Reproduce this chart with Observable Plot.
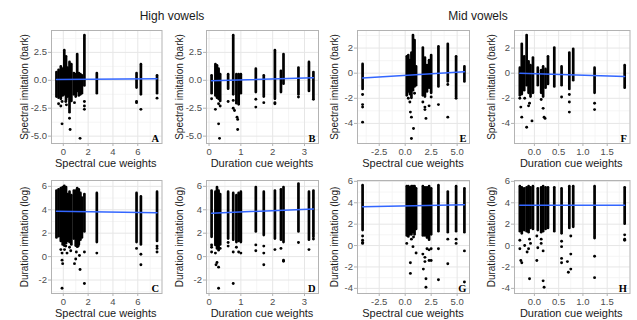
<!DOCTYPE html>
<html><head><meta charset="utf-8">
<script src="https://cdn.jsdelivr.net/npm/d3@7"></script>
<script src="https://cdn.jsdelivr.net/npm/@observablehq/plot@0.6"></script>
<style>
body{margin:0;background:#fff;font-family:"Liberation Sans",Arial,sans-serif;}
#root{position:relative;width:637px;height:320px;overflow:hidden;background:#fff;}
.lab{position:absolute;white-space:nowrap;color:#1a1a1a;transform:translate(-50%,-50%);line-height:1;}
.ylab{transform:translate(-50%,-50%) rotate(-90deg);}
</style></head><body><div id="root"></div><script>
// ---------------- DATA ----------------
const groupTitles = ["High vowels", "Mid vowels"];
const xTitles = ["Spectral cue weights", "Duration cue weights", "Spectral cue weights", "Duration cue weights"];
const yTitles = ["Spectral imitation (bark)", "Duration imitation (log)"];
const panelLetters = ["A", "B", "E", "F", "C", "D", "G", "H"];

// x positions of the point columns (cue weights)
const highSpecX = [-0.55,-0.38,-0.2,-0.05,0.08,0.22,0.35,0.5,0.65,0.85,1.0,1.12,1.25,1.38,1.5,1.7,2.7,5.9,6.25,7.55];
const highDurX  = [0.08,0.2,0.25,0.3,0.35,0.6,0.76,0.86,0.93,1.0,1.47,1.72,2.07,2.26,2.34,2.81,3.14,3.28];
const midSpecX  = [-4.1,0.15,0.3,0.45,0.6,0.75,0.9,1.05,1.7,1.9,2.1,2.3,2.5,3.2,4.1,4.9,5.7];
const midDurX   = [-0.3,-0.26,-0.21,-0.16,-0.12,-0.08,-0.03,0.07,0.14,0.18,0.23,0.28,0.41,0.56,0.72,0.8,1.24,1.86];

// dense column extents (top / bottom) per panel
const aHi = [0.7,0.9,1.2,1.0,2.65,2.1,1.1,1.6,1.4,0.6,0.5,2.3,0.6,0.5,0.4,4.0,0.6,0.6,1.4,0.4];
const aLo = [-1.5,-1.6,-1.7,-1.4,-1.3,-1.8,-1.5,-2.9,-1.9,-1.3,-1.5,-1.0,-1.4,-1.3,-1.2,-0.5,-1.2,-0.7,-1.3,-1.2];
const cHi = [5.6,5.7,5.8,5.9,6.0,5.9,5.3,5.5,5.2,5.6,5.6,5.8,5.7,5.4,5.0,5.3,5.4,5.4,5.1,5.5];
const cLo = [1.6,1.7,1.3,1.0,0.9,1.1,1.3,1.2,1.0,1.5,0.9,0.8,1.0,1.4,1.6,2.1,1.2,1.2,1.0,1.3];
const bHi = [0.4,1.4,1.3,1.0,0.5,0.5,4.0,0.5,0.5,0.5,1.0,0.4,2.65,0.8,2.3,1.1,1.6,0.7];
const bLo = [-1.2,-1.4,-1.6,-1.7,-1.9,-0.8,-1.3,-2.1,-2.2,-1.2,-1.1,-1.5,-1.7,-1.1,-0.35,-1.3,-1.0,-1.6];
const dHi = [5.6,5.5,5.9,5.6,5.3,5.5,5.4,5.2,5.4,5.5,5.9,5.5,5.6,5.7,5.9,6.2,5.5,5.6];
const dLo = [1.65,0.95,0.65,0.5,1.0,1.5,1.4,1.2,1.3,1.2,2.1,1.8,1.5,1.4,1.2,2.1,1.4,1.65];
const eHi = [0.7,1.3,1.4,1.0,1.6,3.0,2.6,0.5,2.0,1.2,0.6,1.0,1.4,2.1,2.3,1.3,0.5];
const eLo = [-1.3,-1.8,-1.5,-1.7,-2.0,-1.4,-1.1,-1.0,-1.8,-1.9,-1.5,-1.2,-1.6,-1.1,-0.7,-1.9,-0.7];
const gHi = [5.6,5.5,5.5,5.4,5.5,5.5,5.5,5.3,5.5,5.4,5.4,5.5,5.3,5.6,5.0,5.5,5.3];
const gLo = [1.4,0.9,0.8,1.0,1.0,1.2,1.0,1.5,0.9,0.9,0.7,0.5,1.0,1.3,1.2,1.3,1.2];
const fHi = [0.4,2.3,1.3,3.0,0.9,0.6,1.2,0.4,0.2,0.5,0.3,1.3,2.0,0.5,1.6,1.9,0.4,0.6];
const fLo = [-1.8,-1.7,-1.4,-1.0,-1.6,-1.9,-1.6,-1.0,-1.6,-1.9,-1.2,-0.9,-1.1,-1.0,-1.3,-0.6,-1.6,-1.2];
const hHi = [5.5,5.4,5.3,5.4,5.5,5.4,5.5,5.3,5.4,5.5,5.4,5.4,5.4,5.3,5.5,5.5,5.5,5.4];
const hLo = [1.3,1.1,1.4,1.3,1.2,1.6,1.5,1.4,1.2,1.3,1.5,1.6,1.3,1.1,1.6,1.7,0.8,2.0];

// isolated points [x, y]
const aOut = [[-0.38,-2.1],[-0.2,-2.3],[-0.1,-1.9],[0.2,-1.9],[0.25,-2.2],[-0.1,-3.9],[0.5,-3.4],[0.55,-4.4],[0.9,-2.0],[1.35,-5.2],[1.7,-1.9],[1.7,-2.3],[1.7,-2.6],[5.9,-1.9],[5.9,-2.0],[6.25,-2.6],[7.55,-1.6]];
const bOut = [[0.08,-1.65],[0.2,-2.6],[0.3,-3.9],[0.33,-5.2],[0.3,-2.1],[0.35,-2.3],[0.6,-1.9],[0.76,-1.8],[0.76,-2.5],[0.8,-2.7],[0.9,-3.5],[0.9,-4.4],[0.88,-3.3],[1.47,-2.4],[1.47,-1.7],[1.72,-2.0],[2.07,-2.0],[2.07,-2.1],[2.81,-1.5],[3.28,-1.7]];
const cOut = [[-0.2,0.6],[-0.1,0.3],[-0.1,-0.3],[-0.05,-0.6],[0.1,0.6],[0.3,0.3],[0.5,0.8],[0.6,0.5],[0.9,-0.6],[1.0,-0.2],[1.05,0.4],[1.3,0.1],[1.35,-1.1],[1.7,0.4],[1.7,-2.3],[-0.1,-2.7],[2.7,0.3],[5.9,0.7],[6.25,0.2],[6.25,-0.7],[7.55,0.7],[7.55,0.4],[7.55,0.9],[1.2,0.9],[0.2,0.9]];
const dOut = [[0.08,1.0],[0.08,0.8],[0.08,0.4],[0.2,0.3],[0.22,-0.7],[0.25,-0.5],[0.3,-0.9],[0.3,-2.7],[0.3,1.2],[0.35,0.7],[0.6,1.2],[0.6,0.9],[0.76,-2.3],[0.76,0.4],[0.86,0.8],[0.93,0.4],[1.0,0.3],[1.47,1.0],[1.47,0.5],[1.72,-0.7],[1.72,0.3],[1.72,0.9],[2.07,0.6],[2.34,-0.3],[2.34,-0.4],[2.26,0.7],[2.81,1.2],[3.14,0.6],[3.28,1.5]];
const eOut = [[-4.1,-1.7],[-4.1,-2.5],[-4.1,-2.7],[-4.1,-3.9],[0.3,-2.0],[0.45,-2.3],[0.5,-3.1],[0.6,-3.5],[0.8,-4.4],[0.6,-5.2],[0.9,-1.6],[1.7,-2.3],[1.9,-2.7],[1.9,-2.9],[2.0,-3.6],[2.3,-2.6],[2.5,-1.9],[3.2,-2.5],[4.1,-3.5],[4.1,-0.9],[4.9,-2.0]];
const fOut = [[-0.28,-2.7],[-0.26,-3.5],[-0.16,-4.3],[-0.12,-2.6],[-0.1,-2.4],[-0.05,-3.8],[-0.2,-2.0],[0.18,-2.8],[0.2,-3.5],[0.22,-3.6],[0.14,-2.1],[0.56,-1.9],[0.72,-2.3],[0.72,-3.1],[0.72,-1.7],[1.24,-2.4],[1.24,-2.9],[-0.3,-2.0]];
const gOut = [[-4.1,0.9],[-4.1,0.5],[-4.1,0.3],[-4.1,0.2],[0.15,0.2],[0.5,-1.6],[0.5,-2.6],[0.6,0.6],[0.75,-0.1],[0.8,0.8],[1.05,-0.7],[1.7,-0.8],[1.75,-2.2],[1.9,-1.1],[1.9,-1.5],[2.0,-3.1],[2.0,-3.9],[2.1,-0.3],[2.3,-0.4],[2.3,-1.4],[2.5,-1.4],[2.5,-0.3],[3.2,-0.3],[3.2,-3.2],[4.1,-1.7],[4.1,0.6],[4.9,0.2],[4.9,0.6],[5.7,-0.5],[5.7,-3.4]];
const hOut = [[-0.3,0.5],[-0.3,-0.3],[-0.28,-1.4],[-0.26,-1.6],[-0.2,0.0],[-0.15,-0.6],[-0.12,-0.3],[-0.1,0.6],[-0.08,0.2],[-0.1,-3.1],[0.05,-1.4],[0.05,0.9],[0.07,-0.2],[0.14,0.6],[0.18,-3.3],[0.2,-3.9],[0.18,-0.5],[0.14,0.2],[0.56,0.4],[0.56,-0.1],[0.56,-1.2],[0.56,-1.6],[0.68,-1.5],[0.7,-2.5],[0.75,-2.2],[0.75,-0.8],[0.75,0.9],[1.24,0.7],[1.24,-1.0],[1.24,-3.0],[1.86,1.0],[1.86,0.6],[1.86,0.5]];

// fitted lines [x1, y1, x2, y2]
const aFit = [-0.55,0.07,7.55,0.14];
const bFit = [0.08,-0.03,3.28,0.22];
const cFit = [-0.55,3.87,7.55,3.74];
const dFit = [0.08,3.71,3.28,4.07];
const eFit = [-4.1,-0.38,5.7,0.12];
const fFit = [-0.3,0.0,1.86,-0.26];
const gFit = [-4.1,3.62,5.7,3.82];
const hFit = [-0.3,3.77,1.86,3.77];

// scale domains
const highSpecDomain = [-0.95,7.95];
const highDurDomain = [-0.08,3.44];
const midSpecDomain = [-4.59,6.19];
const midDurDomain = [-0.41,1.97];
const specHighYDomain = [-5.66,4.46];
const specMidYDomain = [-5.6,3.4];
const durHighYDomain = [-3.15,6.5];
const durMidYDomain = [-4.48,6.08];

// ticks and tick labels
const highSpecTicks = [0,2,4,6], highSpecLabels = ["0","2","4","6"], highSpecMinor = [1,3,5,7];
const highDurTicks = [0,1,2,3], highDurLabels = ["0","1","2","3"], highDurMinor = [0.5,1.5,2.5];
const midSpecTicks = [-2.5,0,2.5,5], midSpecLabels = ["-2.5","0.0","2.5","5.0"], midSpecMinor = [-3.75,-1.25,1.25,3.75];
const midDurTicks = [0,0.5,1,1.5], midDurLabels = ["0.0","0.5","1.0","1.5"], midDurMinor = [-0.25,0.25,0.75,1.25,1.75];
const specHighYTicks = [-5,-2.5,0,2.5], specHighYLabels = ["-5.0","-2.5","0.0","2.5"], specHighYMinor = [-3.75,-1.25,1.25,3.75];
const specMidYTicks = [-4,-2,0,2], specMidYLabels = ["-4","-2","0","2"], specMidYMinor = [-5,-3,-1,1,3];
const durHighYTicks = [-2,0,2,4,6], durHighYLabels = ["-2","0","2","4","6"], durHighYMinor = [-3,-1,1,3,5];
const durMidYTicks = [-4,-2,0,2,4,6], durMidYLabels = ["-4","-2","0","2","4","6"], durMidYMinor = [-3,-1,1,3,5];

// ---------------- BUILD ----------------
const xAxes = [
  {domain: highSpecDomain, ticks: highSpecTicks, labels: highSpecLabels, minor: highSpecMinor, cols: highSpecX},
  {domain: highDurDomain, ticks: highDurTicks, labels: highDurLabels, minor: highDurMinor, cols: highDurX},
  {domain: midSpecDomain, ticks: midSpecTicks, labels: midSpecLabels, minor: midSpecMinor, cols: midSpecX},
  {domain: midDurDomain, ticks: midDurTicks, labels: midDurLabels, minor: midDurMinor, cols: midDurX}
];
const yAxes = [
  [{domain: specHighYDomain, ticks: specHighYTicks, labels: specHighYLabels, minor: specHighYMinor},
   {domain: specHighYDomain, ticks: specHighYTicks, labels: specHighYLabels, minor: specHighYMinor},
   {domain: specMidYDomain, ticks: specMidYTicks, labels: specMidYLabels, minor: specMidYMinor},
   {domain: specMidYDomain, ticks: specMidYTicks, labels: specMidYLabels, minor: specMidYMinor}],
  [{domain: durHighYDomain, ticks: durHighYTicks, labels: durHighYLabels, minor: durHighYMinor},
   {domain: durHighYDomain, ticks: durHighYTicks, labels: durHighYLabels, minor: durHighYMinor},
   {domain: durMidYDomain, ticks: durMidYTicks, labels: durMidYLabels, minor: durMidYMinor},
   {domain: durMidYDomain, ticks: durMidYTicks, labels: durMidYLabels, minor: durMidYMinor}]
];
const series = [
  [{hi: aHi, lo: aLo, out: aOut, fit: aFit}, {hi: bHi, lo: bLo, out: bOut, fit: bFit},
   {hi: eHi, lo: eLo, out: eOut, fit: eFit}, {hi: fHi, lo: fLo, out: fOut, fit: fFit}],
  [{hi: cHi, lo: cLo, out: cOut, fit: cFit}, {hi: dHi, lo: dLo, out: dOut, fit: dFit},
   {hi: gHi, lo: gLo, out: gOut, fit: gFit}, {hi: hHi, lo: hLo, out: hOut, fit: hFit}]
];

const root = document.getElementById("root");
const colLeft = [50.5, 206, 357, 513.5];
const colW = [110.5, 112, 112, 115.5];
const rowTop = [30, 180];
const rowH = 113;
const M = {l: 46, t: 6, r: 6, b: 22};
const FONT = "'Liberation Sans', Arial, Helvetica, sans-serif";

function label(text, x, y, size, cls) {
  const d = document.createElement("div");
  d.className = "lab" + (cls ? " " + cls : "");
  d.textContent = text;
  d.style.left = x + "px"; d.style.top = y + "px"; d.style.fontSize = size + "px";
  root.appendChild(d);
}

for (let row = 0; row < 2; row++) {
  for (let col = 0; col < 4; col++) {
    const xa = xAxes[col], ya = yAxes[row][col], s = series[row][col];
    const cols = xa.cols.map((x, i) => ({x, y1: s.lo[i], y2: s.hi[i]}));
    const pts = s.out.map(([x, y]) => ({x, y}));
    const fit = [{x: s.fit[0], y: s.fit[1]}, {x: s.fit[2], y: s.fit[3]}];
    const letter = panelLetters[row * 4 + col];
    const svg = Plot.plot({
      width: colW[col] + M.l + M.r, height: rowH + M.t + M.b,
      marginLeft: M.l, marginRight: M.r, marginTop: M.t, marginBottom: M.b,
      style: {background: "transparent", fontFamily: FONT, fontSize: "9.5px", overflow: "visible"},
      x: {domain: xa.domain},
      y: {domain: ya.domain},
      marks: [
        Plot.gridX(xa.minor, {stroke: "#f3f3f3", strokeOpacity: 1, strokeWidth: 0.8}),
        Plot.gridY(ya.minor, {stroke: "#f3f3f3", strokeOpacity: 1, strokeWidth: 0.8}),
        Plot.gridX(xa.ticks, {stroke: "#e6e6e6", strokeOpacity: 1, strokeWidth: 1}),
        Plot.gridY(ya.ticks, {stroke: "#e6e6e6", strokeOpacity: 1, strokeWidth: 1}),
        Plot.ruleX(cols, {x: "x", y1: "y1", y2: "y2", stroke: "#000", strokeWidth: 2.7, strokeLinecap: "round"}),
        Plot.dot(pts, {x: "x", y: "y", r: 1.45, fill: "#000", stroke: null}),
        Plot.line(fit, {x: "x", y: "y", stroke: "#3366FF", strokeWidth: 1.5}),
        Plot.frame({stroke: "#b3b3b3", strokeWidth: 1}),
        Plot.axisX(xa.ticks, {tickFormat: d => xa.labels[xa.ticks.indexOf(d)], tickSize: 3, tickPadding: 1.5,
          stroke: "#b3b3b3", fill: "#4d4d4d", label: null}),
        Plot.axisY(ya.ticks, {tickFormat: d => ya.labels[ya.ticks.indexOf(d)], tickSize: 3, tickPadding: 1.5,
          stroke: "#b3b3b3", fill: "#4d4d4d", label: null}),
        Plot.text([letter], {text: d => d, frameAnchor: "bottom-right", dx: -3, dy: -2,
          fontFamily: "'Liberation Serif', 'Times New Roman', serif", fontWeight: "bold", fontSize: 10.5, fill: "#000"})
      ]
    });
    svg.style.position = "absolute";
    svg.style.left = (colLeft[col] - M.l) + "px";
    svg.style.top = (rowTop[row] - M.t) + "px";
    root.appendChild(svg);

    // axis titles
    label(xTitles[col], colLeft[col] + colW[col] / 2, row === 0 ? 163 : 313, 11);
  }
}
const yTitleX = [25, 180, 335, 492];
for (let row = 0; row < 2; row++) {
  for (let col = 0; col < 4; col++) {
    label(yTitles[row], yTitleX[col], rowTop[row] + rowH / 2, 10, "ylab");
  }
}
label(groupTitles[0], 172, 16, 12);
label(groupTitles[1], 478, 16, 12);
</script></body></html>
